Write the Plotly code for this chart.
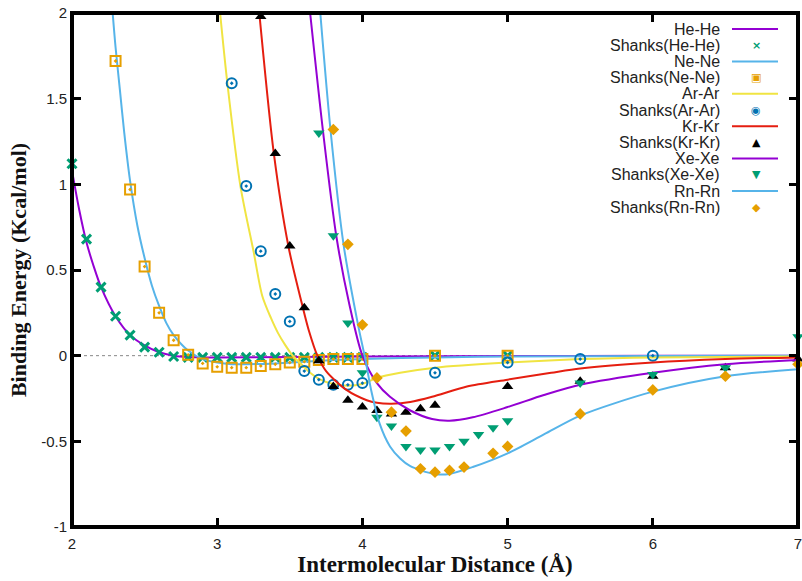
import plotly.graph_objects as go

# ---------------- data ----------------
he_line_x = [2.0, 2.05, 2.1, 2.15, 2.2, 2.3, 2.4, 2.5, 2.6, 2.7, 2.8, 2.9, 3.0, 3.5, 4.0, 5.0, 6.0, 7.0]
he_line_y = [1.08, 0.85, 0.66, 0.52, 0.40, 0.23, 0.12, 0.06, 0.02, 0.0, -0.008, -0.01, -0.01, -0.008, -0.005, -0.002, -0.001, 0.0]
he_pts_x = [2.0, 2.1, 2.2, 2.3, 2.4, 2.5, 2.6, 2.7, 2.8, 2.9, 3.0, 3.1, 3.2, 3.3, 3.4, 3.5, 3.6, 3.7, 3.8, 3.9, 4.0, 4.5, 5.0]
he_pts_y = [1.12, 0.68, 0.40, 0.23, 0.12, 0.05, 0.02, -0.005, -0.01, -0.01, -0.01, -0.01, -0.01, -0.01, -0.01, -0.01, -0.01, -0.01, -0.01, -0.01, -0.01, 0.0, 0.0]

ne_line_x = [2.28, 2.3, 2.33, 2.36, 2.4, 2.45, 2.5, 2.55, 2.6, 2.65, 2.7, 2.8, 2.9, 3.0, 3.1, 3.2, 3.4, 3.6, 3.8, 4.0, 4.5, 5.0, 6.0, 7.0]
ne_line_y = [2.0, 1.80, 1.55, 1.30, 1.02, 0.76, 0.57, 0.41, 0.29, 0.19, 0.12, 0.03, -0.02, -0.04, -0.05, -0.05, -0.045, -0.035, -0.025, -0.02, -0.01, -0.005, -0.002, 0.0]
ne_pts_x = [2.3, 2.4, 2.5, 2.6, 2.7, 2.8, 2.9, 3.0, 3.1, 3.2, 3.3, 3.4, 3.5, 3.6, 3.7, 3.8, 3.9, 4.0, 4.5, 5.0]
ne_pts_y = [1.72, 0.97, 0.52, 0.25, 0.09, 0.005, -0.045, -0.065, -0.07, -0.07, -0.06, -0.05, -0.04, -0.035, -0.025, -0.02, -0.02, -0.02, 0.0, 0.0]

ar_line_x = [3.02, 3.07, 3.16, 3.25, 3.31, 3.37, 3.42, 3.47, 3.52, 3.58, 3.64, 3.7, 3.8, 3.9, 4.0, 4.1, 4.26, 4.5, 5.0, 5.5, 6.0, 7.0]
ar_line_y = [2.0, 1.59, 0.99, 0.61, 0.35, 0.22, 0.13, 0.06, 0.0, -0.05, -0.10, -0.135, -0.165, -0.175, -0.165, -0.13, -0.10, -0.07, -0.04, -0.02, -0.01, -0.005]
ar_pts_x = [3.1, 3.2, 3.3, 3.4, 3.5, 3.6, 3.7, 3.8, 3.9, 4.0, 4.5, 5.0, 5.5, 6.0]
ar_pts_y = [1.59, 0.99, 0.61, 0.36, 0.20, -0.09, -0.14, -0.17, -0.17, -0.16, -0.10, -0.04, -0.02, 0.0]

kr_line_x = [3.29, 3.39, 3.49, 3.59, 3.63, 3.69, 3.75, 3.89, 4.03, 4.1, 4.2, 4.33, 4.48, 4.72, 5.0, 5.3, 5.5, 6.0, 6.5, 7.0]
kr_line_y = [2.0, 1.18, 0.64, 0.28, 0.15, 0.0, -0.09, -0.20, -0.26, -0.275, -0.28, -0.27, -0.24, -0.18, -0.14, -0.10, -0.075, -0.04, -0.02, -0.01]
kr_pts_x = [3.3, 3.4, 3.5, 3.6, 3.7, 3.8, 3.9, 4.0, 4.1, 4.2, 4.3, 4.4, 4.5, 5.0, 5.5, 6.0, 6.5, 7.0]
kr_pts_y = [1.98, 1.18, 0.64, 0.28, -0.03, -0.18, -0.26, -0.30, -0.32, -0.34, -0.33, -0.31, -0.29, -0.18, -0.15, -0.12, -0.07, -0.02]

xe_line_x = [3.64, 3.73, 3.82, 3.91, 4.0, 4.1, 4.19, 4.33, 4.48, 4.6, 4.76, 5.0, 5.25, 5.5, 6.0, 6.5, 7.0]
xe_line_y = [2.0, 1.30, 0.70, 0.30, 0.0, -0.16, -0.24, -0.32, -0.37, -0.38, -0.36, -0.30, -0.23, -0.17, -0.10, -0.05, -0.025]
xe_pts_x = [3.7, 3.8, 3.9, 4.0, 4.1, 4.2, 4.3, 4.4, 4.5, 4.6, 4.7, 4.8, 4.9, 5.0, 5.5, 6.0, 6.5, 7.0]
xe_pts_y = [1.30, 0.70, 0.19, -0.10, -0.36, -0.41, -0.53, -0.55, -0.55, -0.53, -0.50, -0.46, -0.42, -0.38, -0.16, -0.11, -0.07, 0.11]

rn_line_x = [3.71, 3.78, 3.87, 3.97, 4.02, 4.06, 4.12, 4.19, 4.26, 4.33, 4.49, 4.6, 4.76, 5.0, 5.25, 5.5, 6.0, 6.5, 7.0]
rn_line_y = [2.0, 1.32, 0.65, 0.18, -0.02, -0.20, -0.40, -0.53, -0.60, -0.645, -0.69, -0.69, -0.65, -0.57, -0.46, -0.35, -0.21, -0.12, -0.08]
rn_pts_x = [3.8, 3.9, 4.0, 4.1, 4.2, 4.3, 4.4, 4.5, 4.6, 4.7, 4.9, 5.0, 5.5, 6.0, 6.5, 7.0]
rn_pts_y = [1.32, 0.65, 0.18, -0.13, -0.33, -0.44, -0.66, -0.68, -0.67, -0.65, -0.57, -0.53, -0.34, -0.20, -0.12, -0.05]

x_ticks = [2, 3, 4, 5, 6, 7]
y_ticks = [-1, -0.5, 0, 0.5, 1, 1.5, 2]
y_tick_labels = ["-1", "-0.5", "0", "0.5", "1", "1.5", "2"]

# ---------------- styles ----------------
PURPLE = "#9400d3"
GREEN = "#009e73"
SKY = "#56b4e9"
ORANGE = "#e69f00"
YELLOW = "#f0e442"
BLUE = "#0072b2"
RED = "#e51e10"
BLACK = "#000000"

series = [
    ("He-He", "line", he_line_x, he_line_y, PURPLE, None),
    ("Shanks(He-He)", "pts", he_pts_x, he_pts_y, GREEN, dict(symbol="x-thin-open", size=9, color=GREEN, line=dict(width=3, color=GREEN))),
    ("Ne-Ne", "line", ne_line_x, ne_line_y, SKY, None),
    ("Shanks(Ne-Ne)", "pts", ne_pts_x, ne_pts_y, ORANGE, dict(symbol="square-open-dot", size=10, color=ORANGE, line=dict(width=2, color=ORANGE))),
    ("Ar-Ar", "line", ar_line_x, ar_line_y, YELLOW, None),
    ("Shanks(Ar-Ar)", "pts", ar_pts_x, ar_pts_y, BLUE, dict(symbol="circle-open-dot", size=10, color=BLUE, line=dict(width=2, color=BLUE))),
    ("Kr-Kr", "line", kr_line_x, kr_line_y, RED, None),
    ("Shanks(Kr-Kr)", "pts", kr_pts_x, kr_pts_y, BLACK, dict(symbol="triangle-up", size=10, color=BLACK)),
    ("Xe-Xe", "line", xe_line_x, xe_line_y, PURPLE, None),
    ("Shanks(Xe-Xe)", "pts", xe_pts_x, xe_pts_y, GREEN, dict(symbol="triangle-down", size=10, color=GREEN)),
    ("Rn-Rn", "line", rn_line_x, rn_line_y, SKY, None),
    ("Shanks(Rn-Rn)", "pts", rn_pts_x, rn_pts_y, ORANGE, dict(symbol="diamond", size=9, color=ORANGE)),
]
legend_glyphs = {"Shanks(He-He)": "\u00d7", "Shanks(Ne-Ne)": "\u25a3", "Shanks(Ar-Ar)": "\u25c9",
                 "Shanks(Kr-Kr)": "\u25b2", "Shanks(Xe-Xe)": "\u25bc", "Shanks(Rn-Rn)": "\u25c6"}

W, H = 802, 581
ML, MR, MT, MB = 72, 4, 13, 54
PW, PH = W - ML - MR, H - MT - MB


def px_to_paper_x(px):
    return (px - ML) / PW


def px_to_paper_y(py):
    return (H - MB - py) / PH


fig = go.Figure()
annotations = []
shapes = [dict(type="line", xref="paper", yref="y", x0=0, x1=1, y0=0, y1=0,
               line=dict(color="#888888", width=1, dash="dot"), layer="below")]

LEG_TEXT_RIGHT = 722
LEG_LINE_X0, LEG_LINE_X1 = 732, 778
LEG_MARK_X = 756
LEG_ROW0, LEG_DY = 29, 16.2

for i, (name, kind, xs, ys, col, mk) in enumerate(series):
    if kind == "line":
        fig.add_trace(go.Scatter(x=xs, y=ys, mode="lines", name=name, showlegend=False,
                                 line=dict(color=col, width=2, shape="spline", smoothing=0.8),
                                 cliponaxis=True))
    else:
        fig.add_trace(go.Scatter(x=xs, y=ys, mode="markers", name=name, showlegend=False,
                                 marker=mk, cliponaxis=False))
    row_y = px_to_paper_y(LEG_ROW0 + i * LEG_DY)
    annotations.append(dict(xref="paper", yref="paper", x=px_to_paper_x(LEG_TEXT_RIGHT), y=row_y,
                            xanchor="right", yanchor="middle", text=name, showarrow=False,
                            font=dict(family="Liberation Sans, Arial, sans-serif", size=16, color="#222222")))
    if kind == "line":
        shapes.append(dict(type="line", xref="paper", yref="paper",
                           x0=px_to_paper_x(LEG_LINE_X0), x1=px_to_paper_x(LEG_LINE_X1),
                           y0=row_y, y1=row_y, line=dict(color=col, width=2)))
    else:
        annotations.append(dict(xref="paper", yref="paper", x=px_to_paper_x(LEG_MARK_X), y=row_y,
                                xanchor="center", yanchor="middle", text="<b>" + legend_glyphs[name] + "</b>",
                                showarrow=False,
                                font=dict(family="DejaVu Sans", size=11, color=col)))

# gnuplot style thick border
shapes.append(dict(type="rect", xref="paper", yref="paper", x0=0, x1=1, y0=0, y1=1,
                   line=dict(color="black", width=4), fillcolor="rgba(0,0,0,0)", layer="above"))

axis_common = dict(showline=True, linecolor="black", linewidth=2, mirror="ticks",
                   ticks="inside", ticklen=9, tickwidth=2.5, tickcolor="black",
                   showgrid=False, zeroline=False, automargin=False, ticklabeloverflow="allow",
                   tickfont=dict(family="Liberation Sans, Arial, sans-serif", size=15, color="#222222"))

fig.update_layout(
    template="none",
    width=W, height=H,
    margin=dict(l=ML, r=MR, t=MT, b=MB),
    paper_bgcolor="white", plot_bgcolor="white",
    showlegend=False,
    hovermode=False,
    xaxis=dict(range=[2, 7], tickvals=x_ticks, ticklabelstandoff=2,
               title=dict(text="<b>Intermolecular Distance (Å)</b>", standoff=5,
                          font=dict(family="Liberation Serif, Times New Roman, serif", size=23, color="#111111")),
               **axis_common),
    yaxis=dict(range=[-1, 2], tickvals=y_ticks, ticktext=y_tick_labels, ticksuffix="  ",
               title=dict(text="<b>Binding Energy (Kcal/mol)</b>", standoff=8,
                          font=dict(family="Liberation Serif, Times New Roman, serif", size=22, color="#111111")),
               **axis_common),
    annotations=annotations,
    shapes=shapes,
)

# remove the browser's default 8px page margin so the figure fills the window exactly
fig.write_html("out.html",
               config={"displayModeBar": False},
               post_script="document.body.style.margin='0px'; document.body.style.overflow='hidden';")
